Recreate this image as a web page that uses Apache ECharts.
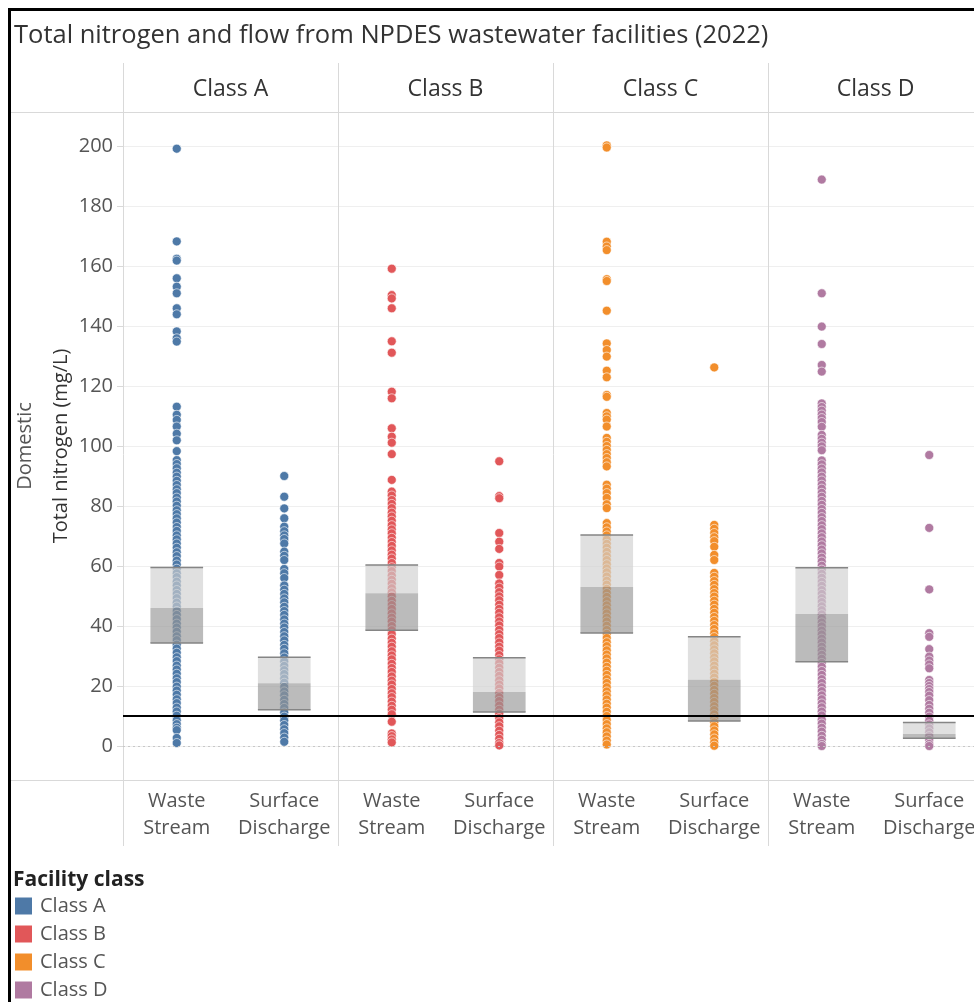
<!DOCTYPE html>
<html>
<head>
<meta charset="utf-8">
<title>Total nitrogen and flow from NPDES wastewater facilities (2022)</title>
<script src="https://cdn.jsdelivr.net/npm/echarts@6/dist/echarts.min.js"></script>
<style>
  html, body { margin: 0; padding: 0; background: #fff; }
  #chart { width: 974px; height: 1002px; }
</style>
</head>
<body>
<div id="chart"></div>
<script>
// facility classes (one panel each) and the two sample types inside a panel
const classNames = ['Class A', 'Class B', 'Class C', 'Class D']
const sampleTypes = ['Waste Stream', 'Surface Discharge']
const classColors = ['#4e79a7', '#e15759', '#f28e2b', '#b07aa1']

// total nitrogen readings (mg/L)
const wasteA = [199.1, 168.2, 162.4, 161.8, 155.9, 153.1, 150.9, 145.9, 143.9, 138.2, 135.9, 134.8,
  113.1, 110.4, 108.7, 106.5, 104.1, 101.9, 98.3, 95.3, 94.0, 92.6, 91.1, 89.8, 88.4, 87.0, 85.6, 84.3,
  82.8, 81.5, 80.1, 78.6, 77.3, 75.9, 74.5, 73.0, 71.7, 70.2, 68.9, 67.5, 66.1, 64.6, 63.3, 61.8, 60.5,
  59.1, 57.6, 56.3, 54.8, 53.5, 52.0, 50.7, 49.3, 47.8, 46.5, 45.0, 43.7, 42.3, 40.8, 39.5, 38.1, 36.6,
  35.3, 33.8, 32.5, 31.1, 29.6, 28.3, 26.8, 25.5, 24.1, 22.6, 21.3, 19.8, 18.5, 17.1, 15.6, 14.3, 12.8,
  11.5, 10.1, 8.6, 7.3, 6.1, 5.3, 2.7, 1.0]
const surfA = [90.0, 83.1, 79.2, 75.9, 73.1, 71.6, 70.2, 69.0, 67.5, 64.8, 63.4, 62.0, 59.0, 57.6, 56.0,
  53.5, 52.1, 50.7, 49.2, 47.9, 46.4, 45.0, 43.7, 42.2, 40.8, 39.5, 38.0, 36.6, 35.2, 33.7, 32.4, 30.9,
  29.5, 28.2, 26.7, 25.3, 24.0, 22.5, 21.1, 19.7, 18.2, 16.9, 15.4, 14.0, 12.7, 11.2, 9.8, 8.5, 7.0,
  5.6, 4.3, 2.8, 1.4]
const wasteB = [159.1, 150.3, 149.2, 145.9, 134.9, 131.1, 118.1, 115.9, 105.9, 103.1, 101.1, 97.3, 88.7,
  84.8, 83.5, 82.0, 80.7, 79.3, 77.8, 76.5, 75.1, 73.6, 72.2, 70.9, 69.4, 68.0, 66.7, 65.2, 63.8, 62.5,
  61.0, 59.6, 58.3, 56.8, 55.4, 54.1, 52.6, 51.2, 49.9, 48.4, 47.0, 45.7, 44.2, 42.8, 41.5, 40.0, 38.6,
  37.3, 35.8, 34.4, 33.1, 31.6, 30.2, 28.9, 27.4, 26.0, 24.7, 23.2, 21.8, 20.5, 19.0, 17.6, 16.3, 14.8,
  13.4, 12.1, 10.6, 8.1, 4.2, 3.3, 2.2, 1.2]
const surfB = [94.9, 83.3, 82.6, 71.0, 68.1, 65.7, 61.0, 59.8, 57.0, 54.2, 52.8, 51.3, 49.9, 48.6, 47.1,
  45.7, 44.4, 42.9, 41.5, 40.2, 38.7, 37.3, 36.0, 34.5, 33.1, 31.8, 30.3, 28.9, 27.6, 26.1, 24.7, 23.4,
  21.9, 20.5, 19.2, 17.7, 16.3, 15.0, 13.5, 12.1, 10.8, 9.3, 7.9, 6.6, 5.1, 3.7, 2.4, 1.0, 0.2]
const wasteC = [200.2, 199.5, 168.1, 166.5, 165.3, 155.6, 155.0, 145.1, 134.2, 132.0, 129.8, 125.1, 122.9,
  117.0, 116.4, 111.0, 109.9, 108.8, 106.5, 102.7, 101.4, 100.0, 98.7, 97.3, 96.0, 94.6, 93.2, 87.1, 85.8,
  84.3, 82.7, 80.6, 79.3, 74.3, 72.9, 71.5, 70.2, 68.8, 67.4, 66.1, 64.7, 63.3, 62.0, 60.6, 59.2, 57.9,
  56.5, 55.1, 53.8, 52.4, 51.0, 49.7, 48.3, 46.9, 45.6, 44.2, 42.8, 41.5, 40.1, 38.7, 37.4, 36.0, 34.6,
  33.3, 31.9, 30.5, 29.2, 27.8, 26.4, 25.1, 23.7, 22.3, 21.0, 19.6, 18.2, 16.9, 15.5, 14.1, 12.8, 11.4,
  10.0, 8.7, 7.3, 5.9, 4.6, 3.2, 1.8, 0.5]
const surfC = [126.2, 73.7, 72.4, 71.0, 69.6, 68.3, 66.4, 63.7, 62.0, 57.7, 56.4, 55.0, 53.7, 52.3, 51.0,
  49.8, 48.4, 47.1, 45.7, 44.4, 43.0, 41.7, 40.3, 39.0, 37.6, 36.3, 34.9, 33.6, 32.2, 30.9, 29.5, 28.2,
  26.8, 25.5, 24.1, 22.8, 21.4, 20.1, 18.7, 17.4, 16.0, 14.7, 13.3, 12.0, 10.6, 9.3, 7.9, 6.6, 5.2, 3.9,
  2.5, 1.2, 0.1]
const wasteD = [188.8, 150.9, 139.8, 134.0, 127.0, 124.8, 114.2, 113.0, 111.8, 110.5, 109.3, 108.0, 106.4,
  103.7, 102.4, 101.1, 99.9, 98.6, 95.2, 93.9, 92.5, 91.2, 89.8, 88.5, 87.1, 85.8, 84.4, 83.1, 81.7, 80.4,
  79.0, 77.7, 76.3, 75.0, 73.6, 72.3, 70.9, 69.6, 68.2, 66.9, 65.5, 64.2, 62.8, 61.5, 60.1, 58.8, 57.4,
  56.1, 54.7, 53.4, 52.0, 50.7, 49.3, 48.0, 46.6, 45.3, 43.9, 42.6, 41.2, 39.9, 38.5, 37.2, 35.8, 34.5,
  33.1, 31.8, 30.4, 29.1, 27.7, 26.4, 25.0, 23.7, 22.3, 21.0, 19.6, 18.3, 16.9, 15.6, 14.2, 12.9, 11.5,
  10.2, 8.8, 7.5, 6.1, 4.8, 3.4, 2.1, 0.7, 0.0]
const surfD = [97.0, 72.7, 52.2, 37.6, 36.4, 32.3, 29.8, 28.5, 27.2, 25.9, 22.0, 21.0, 20.0, 19.0, 18.0,
  16.8, 15.3, 13.7, 12.4, 11.1, 9.8, 8.5, 7.2, 5.9, 4.6, 3.3, 2.0, 0.7, 0.0]

const wasteByClass = [wasteA, wasteB, wasteC, wasteD]
const surfByClass = [surfA, surfB, surfC, surfD]

// box plot quartiles per class (mg/L)
const wasteQ1 = [34.3, 38.6, 37.7, 28.1]
const wasteMedian = [46.0, 50.9, 53.0, 44.0]
const wasteQ3 = [59.5, 60.3, 70.3, 59.4]
const surfQ1 = [12.1, 11.3, 8.3, 2.6]
const surfMedian = [20.9, 18.0, 22.1, 4.0]
const surfQ3 = [29.6, 29.4, 36.4, 7.8]

// reference line and y ticks
const targetLevel = 10
const yTicks = [0, 20, 40, 60, 80, 100, 120, 140, 160, 180, 200]

const FONT = '"Open Sans", "Noto Sans", sans-serif'
const PANEL_LEFT = 123
const PANEL_W = 215
const PLOT_TOP = 112
const PLOT_H = 668
const GRID_COLOR = '#d9d9d9'

const chart = echarts.init(document.getElementById('chart'))

function renderBox(params, api) {
  const cat = api.value(0)
  const pQ1 = api.coord([cat, api.value(1)])
  const pMed = api.coord([cat, api.value(2)])
  const pQ3 = api.coord([cat, api.value(3)])
  const w = api.size([1, 0])[0] * 0.49
  const x = pQ1[0] - w / 2
  return {
    type: 'group',
    children: [
      {
        type: 'rect',
        shape: { x: x, y: pQ3[1], width: w, height: pMed[1] - pQ3[1] },
        style: { fill: 'rgba(207,207,207,0.65)' }
      },
      {
        type: 'rect',
        shape: { x: x, y: pMed[1], width: w, height: pQ1[1] - pMed[1] },
        style: { fill: 'rgba(150,150,150,0.65)' }
      },
      {
        type: 'line',
        shape: { x1: x, y1: pQ3[1], x2: x + w, y2: pQ3[1] },
        style: { stroke: '#858585', lineWidth: 1.5 }
      },
      {
        type: 'line',
        shape: { x1: x, y1: pQ1[1], x2: x + w, y2: pQ1[1] },
        style: { stroke: '#858585', lineWidth: 1.5 }
      }
    ]
  }
}

const grids = []
const xAxes = []
const yAxes = []
const series = []
const graphics = []

classNames.forEach((name, i) => {
  grids.push({
    left: PANEL_LEFT + PANEL_W * i,
    top: PLOT_TOP,
    width: PANEL_W,
    height: PLOT_H,
    outerBoundsMode: 'none',
    containLabel: false
  })
  xAxes.push({
    type: 'category',
    gridIndex: i,
    data: sampleTypes,
    axisLine: { show: false },
    axisTick: { show: false },
    axisLabel: {
      formatter: v => v.replace(' ', '\n'),
      fontFamily: FONT,
      fontSize: 20,
      lineHeight: 27,
      color: '#555',
      margin: 8,
      interval: 0
    }
  })
  yAxes.push({
    type: 'value',
    gridIndex: i,
    min: -11.33,
    max: 211.33,
    name: i === 0 ? 'Total nitrogen (mg/L)' : '',
    nameLocation: 'middle',
    nameGap: 52,
    nameTextStyle: { fontFamily: FONT, fontSize: 20, color: '#333' },
    axisLine: { show: false },
    axisTick: {
      show: i === 0,
      customValues: yTicks,
      length: 6,
      lineStyle: { color: '#d9d9d9' }
    },
    axisLabel: {
      show: i === 0,
      customValues: yTicks,
      fontFamily: FONT,
      fontSize: 20,
      color: '#555',
      margin: 10
    },
    splitLine: { show: true, lineStyle: { color: '#efefef', width: 1 } }
  })

  const points = wasteByClass[i].map(v => [sampleTypes[0], v])
    .concat(surfByClass[i].map(v => [sampleTypes[1], v]))
  series.push({
    name: name,
    type: 'scatter',
    xAxisIndex: i,
    yAxisIndex: i,
    data: points,
    symbolSize: 9,
    z: 2,
    itemStyle: { color: classColors[i], borderColor: '#fff', borderWidth: 0.6, opacity: 1 },
    emphasis: { disabled: true },
    markLine: {
      silent: true,
      symbol: 'none',
      label: { show: false },
      lineStyle: { color: '#c8c8c8', type: [2, 3], width: 1 },
      data: [{ yAxis: 0 }]
    }
  })
  series.push({
    type: 'custom',
    xAxisIndex: i,
    yAxisIndex: i,
    z: 3,
    renderItem: renderBox,
    data: [
      [0, wasteQ1[i], wasteMedian[i], wasteQ3[i]],
      [1, surfQ1[i], surfMedian[i], surfQ3[i]]
    ],
    encode: { x: 0, y: [1, 2, 3] },
    markLine: {
      silent: true,
      symbol: 'none',
      label: { show: false },
      z: 10,
      lineStyle: { color: '#000', type: 'solid', width: 2 },
      data: [{ yAxis: targetLevel }]
    }
  })

  // panel header and divider
  graphics.push({
    type: 'text',
    x: PANEL_LEFT + PANEL_W * i + PANEL_W / 2,
    y: 89,
    style: {
      text: name,
      font: '23px ' + FONT,
      fill: '#333',
      textAlign: 'center',
      textVerticalAlign: 'middle'
    }
  })
  graphics.push({
    type: 'line',
    shape: { x1: PANEL_LEFT + PANEL_W * i + 0.5, y1: 63, x2: PANEL_LEFT + PANEL_W * i + 0.5, y2: 846 },
    style: { stroke: GRID_COLOR, lineWidth: 1 },
    z: 1
  })
})

graphics.push(
  {
    type: 'line',
    shape: { x1: 10, y1: 112.5, x2: 974, y2: 112.5 },
    style: { stroke: GRID_COLOR, lineWidth: 1 }
  },
  {
    type: 'line',
    shape: { x1: 10, y1: 780.5, x2: 974, y2: 780.5 },
    style: { stroke: GRID_COLOR, lineWidth: 1 }
  },
  {
    type: 'polyline',
    shape: { points: [[9.5, 1002], [9.5, 9.5], [974, 9.5]] },
    style: { stroke: '#000', lineWidth: 3, fill: null }
  },
  {
    type: 'text',
    x: 25,
    y: 446,
    rotation: Math.PI / 2,
    style: {
      text: 'Domestic',
      font: '20px ' + FONT,
      fill: '#555',
      textAlign: 'center',
      textVerticalAlign: 'middle'
    }
  },
  {
    type: 'text',
    x: 13,
    y: 880,
    style: {
      text: 'Facility class',
      font: 'bold 21px ' + FONT,
      fill: '#222',
      textAlign: 'left',
      textVerticalAlign: 'middle'
    }
  }
)

chart.setOption({
  animation: false,
  title: {
    text: 'Total nitrogen and flow from NPDES wastewater facilities (2022)',
    left: 14,
    top: 23,
    padding: 0,
    textStyle: { fontFamily: FONT, fontSize: 25.5, fontWeight: 'normal', color: '#333' }
  },
  legend: {
    data: classNames,
    orient: 'vertical',
    left: 15,
    top: 896,
    height: 130,
    padding: 0,
    itemWidth: 17,
    itemHeight: 17,
    itemGap: 8,
    icon: 'rect',
    selectedMode: false,
    itemStyle: { borderWidth: 0 },
    textStyle: { fontFamily: FONT, fontSize: 20, color: '#555', padding: [0, 0, 0, 3] }
  },
  grid: grids,
  xAxis: xAxes,
  yAxis: yAxes,
  series: series,
  graphic: graphics
})
</script>
</body>
</html>
